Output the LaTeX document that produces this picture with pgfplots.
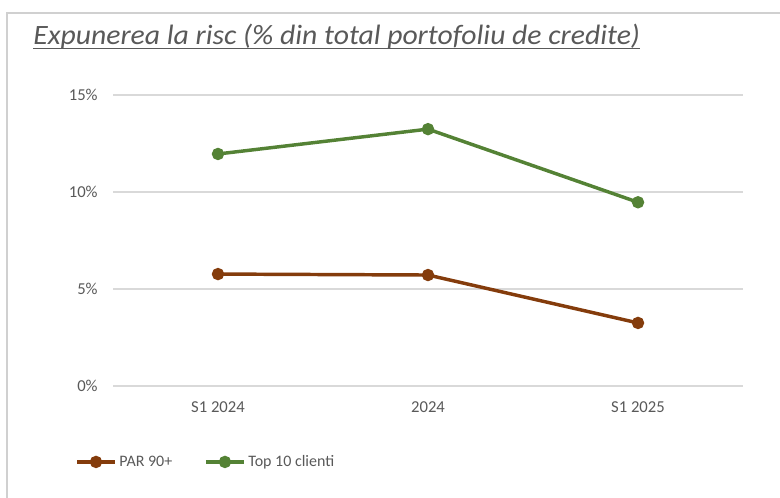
\documentclass[border=0pt]{standalone}
\usepackage{pgfplots}
\pgfplotsset{compat=1.18}
\usepackage{fontspec}
\setmainfont{Carlito}
\definecolor{txtgrey}{HTML}{595959}
\definecolor{gridgrey}{HTML}{D9D9D9}
\definecolor{framegrey}{HTML}{D0D0D0}
\definecolor{parbrown}{HTML}{843C0C}
\definecolor{topgreen}{HTML}{548235}
\begin{document}
\begin{tikzpicture}
\useasboundingbox (0,0) rectangle (585pt,373.5pt);
\draw[framegrey, line width=1.2pt] (5.25pt,0pt) -- (5.25pt,363.75pt) -- (585pt,363.75pt);
\node[anchor=base west, inner sep=0pt, text=txtgrey, font=\fontsize{21}{25}\selectfont\itshape] (t) at (24.75pt,340.3pt) {\scalebox{1.06}[1]{Expunerea la risc (\% din total portofoliu de credite)}};
\draw[txtgrey, line width=1.1pt] (24.75pt,337.0pt) -- (480pt,337.0pt);
\begin{axis}[
  at={(84.75pt,84pt)}, anchor=south west,
  scale only axis, width=472.5pt, height=218.25pt,
  xmin=-0.5, xmax=2.5, ymin=0, ymax=15,
  xtick={0,1,2}, xticklabels={S1 2024,2024,S1 2025},
  ytick={0,5,10,15},
  yticklabel={\pgfmathprintnumber{\tick}\%},
  /pgf/number format/assume math mode=true,
  ymajorgrids, major grid style={gridgrey, line width=0.9pt},
  axis line style={draw=none}, tick style={draw=none},
  ticklabel style={font=\fontsize{12.5}{14}\selectfont, text=txtgrey},
  yticklabel style={xshift=-8pt},
  xticklabel style={yshift=-8.5pt},
  clip=false,
  legend columns=2,
  legend cell align=left,
  legend style={at={(rel axis cs:-0.0603,-0.261)}, anchor=west, draw=none, fill=none, inner sep=0pt,
    font=\fontsize{12}{14}\selectfont, text=txtgrey,
    /tikz/column 2/.style={column sep=22pt}},
  legend image code/.code={\draw[mark repeat=2,mark phase=2,#1] plot coordinates {(0pt,0pt) (14.25pt,0pt) (28.5pt,0pt)};},
]
\addplot[parbrown, line width=2.6pt, mark=*, mark size=3.3pt, mark options={solid}] coordinates {(0,5.77) (1,5.72) (2,3.25)};
\addlegendentry{PAR 90+}
\addplot[topgreen, line width=2.6pt, mark=*, mark size=3.3pt, mark options={solid}] coordinates {(0,11.96) (1,13.24) (2,9.47)};
\addlegendentry{Top 10 clienti}
\end{axis}
\end{tikzpicture}
\end{document}
